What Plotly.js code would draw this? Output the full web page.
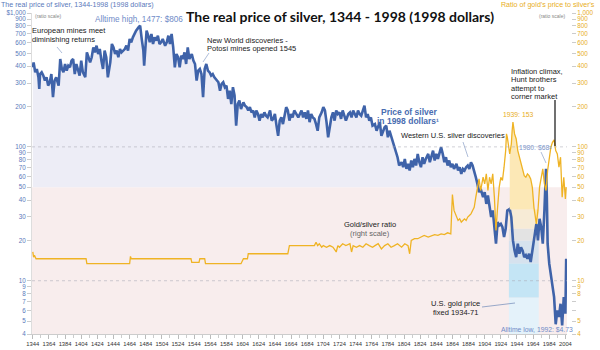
<!DOCTYPE html>
<html><head><meta charset="utf-8">
<script src="https://cdn.plot.ly/plotly-3.0.1.min.js"></script>
<style>html,body{margin:0;padding:0;background:#fff}#chart{width:600px;height:350px}</style>
</head><body><div id="chart"></div>
<script>
// ---- data ----
const silverYears = [
1344,1345,1347,1349,1351,1352,1353,1355,1357,1359,
1361,1363,1365,1367,1369,1371,1373,1376,1378,1380,
1382,1384,1386,1388,1390,1392,1394,1396,1398,1400,
1402,1404,1406,1409,1411,1413,1415,1417,1419,1421,
1423,1425,1427,1429,1431,1433,1435,1437,1440,1442,
1444,1446,1448,1450,1452,1454,1456,1458,1460,1462,
1464,1466,1468,1470,1472,1475,1477,1479,1481,1482,
1484,1485,1487,1489,1491,1493,1495,1497,1499,1501,
1503,1505,1508,1510,1512,1514,1516,1518,1520,1522,
1524,1526,1528,1530,1532,1534,1536,1538,1541,1543,
1545,1547,1549,1551,1553,1555,1557,1559,1561,1563,
1565,1567,1569,1571,1574,1576,1578,1580,1582,1584,
1586,1588,1590,1592,1594,1596,1598,1600,1602,1605,
1607,1609,1611,1613,1615,1617,1619,1621,1623,1625,
1627,1629,1631,1633,1635,1638,1640,1642,1644,1646,
1648,1650,1652,1654,1656,1658,1660,1662,1664,1666,
1668,1671,1673,1675,1677,1679,1681,1683,1685,1687,
1689,1691,1693,1695,1697,1699,1702,1704,1706,1708,
1710,1712,1714,1716,1718,1720,1722,1724,1726,1728,
1730,1732,1735,1737,1739,1741,1743,1745,1747,1749,
1751,1753,1755,1757,1759,1761,1763,1765,1768,1770,
1772,1774,1776,1778,1780,1782,1784,1786,1788,1790,
1792,1794,1796,1798,1801,1803,1805,1807,1809,1811,
1813,1815,1817,1819,1821,1823,1825,1827,1829,1831,
1834,1836,1838,1840,1842,1844,1846,1848,1850,1852,
1854,1856,1858,1860,1862,1864,1866,1869,1871,1873,
1875,1877,1879,1881,1883,1885,1887,1889,1891,1893,
1895,1897,1899,1902,1904,1906,1908,1910,1912,1914,
1916,1918,1920,1922,1924,1926,1928,1930,1932,1935,
1937,1939,1941,1943,1945,1947,1949,1951,1953,1955,
1957,1959,1961,1963,1965,1968,1970,1972,1974,1976,
1978,1980,1981,1982,1984,1986,1988,1990,1992,1994,
1996,1998,2000,2002,2004,2005];
const silverPrice = [
393,428,361,382,331,271,350,361,341,313,
331,287,304,350,235,313,331,287,453,382,
361,416,371,404,393,441,453,350,416,382,
341,441,361,331,508,467,428,467,554,508,
570,494,538,441,382,523,467,331,428,587,
554,494,523,467,538,508,523,538,570,523,
639,604,658,697,738,781,806,639,523,404,
639,738,677,604,697,587,658,621,677,587,
604,639,570,604,677,587,697,554,393,494,
467,393,480,453,508,416,554,453,494,441,
416,313,371,382,350,235,382,416,371,361,
341,350,331,322,304,263,295,304,279,287,
228,263,209,279,242,144,209,222,192,215,
203,198,187,198,181,187,166,187,176,157,
176,166,181,171,166,187,157,162,176,144,
121,157,166,148,176,198,187,157,176,166,
187,171,166,176,187,166,181,162,187,153,
176,166,162,148,132,166,181,198,187,153,
118,140,166,181,157,187,176,181,162,187,
171,157,176,181,166,187,176,166,187,176,
171,187,203,166,176,157,166,144,148,132,
144,153,121,132,140,144,118,132,121,108,
102,93.8,83.7,72.5,76.8,70.5,81.3,68.5,74.6,66.6,
79.1,70.5,81.3,72.5,88.6,76.8,70.5,83.7,74.6,81.3,
88.6,76.8,83.7,93.8,79.1,88.6,81.3,91.2,99.4,88.6,
76.8,83.7,72.5,79.1,70.5,74.6,68.5,74.6,66.6,70.5,
62.8,68.5,66.6,70.5,72.5,68.5,76.8,72.5,66.6,59.3,
52.9,45.9,48.6,42.1,45.9,37.5,43.3,35.4,29.9,33.5,
25.1,18.9,27.4,25.9,26.6,25.1,21.2,24.4,33.5,34.4,
29.9,20.0,16.8,15.0,18.9,15.9,17.8,16.8,15.0,15.5,
14.6,15.9,13.8,16.8,21.2,26.6,20.0,29.0,25.1,18.9,
33.5,68.5,42.1,18.9,13.4,11.3,8.96,7.55,4.73,6.00,
5.36,6.73,4.64,7.55,5.67,14.6];

const ratioYears = [
1344,1345,1346,1348,1410,1411,1464,1465,1466,1540,
1541,1550,1551,1557,1558,1602,1605,1610,1611,1660,
1662,1693,1695,1697,1699,1702,1704,1708,1712,1716,
1720,1722,1724,1728,1732,1737,1739,1741,1745,1749,
1753,1757,1761,1765,1768,1772,1776,1780,1784,1788,
1792,1796,1801,1805,1809,1811,1813,1817,1821,1825,
1829,1834,1838,1842,1846,1850,1854,1858,1862,1864,
1866,1869,1871,1873,1875,1877,1879,1881,1883,1885,
1887,1889,1891,1893,1895,1897,1899,1902,1904,1906,
1908,1910,1912,1914,1916,1918,1920,1922,1924,1926,
1928,1930,1931,1932,1935,1937,1938,1939,1941,1943,
1945,1947,1949,1951,1953,1955,1957,1959,1961,1963,
1965,1968,1970,1972,1974,1976,1978,1980,1982,1984,
1986,1988,1990,1992,1994,1996,1998,2000,2002,2004,
2005];
const ratioValues = [
16.4,15.0,15.5,14.6,14.6,13.4,13.4,15.2,14.6,14.6,
13.7,13.7,14.6,14.6,13.4,13.4,14.6,14.6,15.9,15.9,
18.3,18.3,19.4,18.3,18.9,17.8,18.3,17.8,18.3,17.8,
16.4,18.3,17.8,18.9,18.3,18.9,16.4,18.3,17.8,18.3,
17.8,18.9,18.3,17.8,18.3,18.9,17.3,18.3,18.9,17.8,
18.3,18.9,17.8,18.9,18.3,15.9,20.0,20.6,20.6,21.2,
21.8,21.2,21.8,22.1,21.8,22.4,22.1,22.8,22.4,44.0,
33.5,29.9,28.2,29.0,27.4,28.2,29.0,28.2,29.9,30.7,
31.6,33.5,35.4,42.1,50.0,57.7,47.2,59.3,52.9,62.8,
47.2,59.3,52.9,62.8,42.1,23.7,35.4,50.0,59.3,56.1,
70.5,93.8,125,118,88.6,105,132,153,125,115,
93.8,83.7,76.8,66.6,61.0,59.3,62.8,61.0,57.7,50.0,
35.4,26.6,33.5,50.0,59.3,68.5,52.9,47.2,66.6,83.7,
99.4,108,113,93.8,88.6,70.5,83.7,42.1,59.3,40.9,
50.0];

const xTickYears = [1344,1364,1384,1404,1424,1444,1464,1484,1504,1524,1544,1564,1584,1604,1624,1644,1664,1684,1704,1724,1744,1764,1784,1804,1824,1844,1864,1884,1904,1924,1944,1964,1984,2004];
const leftTickVals = [4,5,6,7,8,9,10,20,30,40,50,60,70,80,90,100,200,300,400,500,600,700,800,900,1000];
const leftTickText = ['4','5','6','7','8','9','10','20','30','40','50','60','70','80','90','100','200','300','400','500','600','700','800','900','$1,000'];
const rightTickVals = [4,5,6,7,8,9,10,20,30,40,50,60,70,80,90,100,200,300,400,500,600,700,800,900,1000];
const rightTickText = ['4','5','','','8','9','10','20','30','40','50','60','70','80','90','100','200','300','400','500','600','700','800','900','1,000'];
const goldFixedStart = 1934, goldFixedEnd = 1971;
const splitLevel = 50;       // value where the background changes
const bandBaseLevel = 34;    // yellow fill base in the fixed-gold band

// ---- geometry helpers (layout only) ----
const W=600,H=350,L=32,R=29,T=13,B=16;
const yMin=4, yMax=1000;
const xDomEnd = (567-L)/(W-L-R);
function px(x){return (x-L)/(W-L-R);}
function py(y){return (H-B-y)/(H-T-B);}
function pv(v){return (Math.log10(v)-Math.log10(yMin))/(Math.log10(yMax)-Math.log10(yMin));}

const NARROW = "'Liberation Sans',Arial,sans-serif";
const BLUE = '#3f63a9', GOLD = '#efb324';

const bandYears = ratioYears.filter(y=>y>=goldFixedStart && y<=goldFixedEnd);
const bandRatio = ratioValues.filter((v,i)=>ratioYears[i]>=goldFixedStart && ratioYears[i]<=goldFixedEnd);

const traces = [
  {x:silverYears, y:silverYears.map(()=>splitLevel), mode:'lines', line:{width:0,color:'rgba(0,0,0,0)'}, hoverinfo:'skip', showlegend:false},
  {x:silverYears, y:silverPrice.map(v=>Math.max(v,splitLevel)), mode:'lines', fill:'tonexty', fillcolor:'#ededf6', line:{width:0,color:'rgba(0,0,0,0)'}, hoverinfo:'skip', showlegend:false},
  {x:bandYears, y:bandYears.map(()=>bandBaseLevel), yaxis:'y2', mode:'lines', line:{width:0,color:'rgba(0,0,0,0)'}, hoverinfo:'skip', showlegend:false},
  {x:bandYears, y:bandRatio, yaxis:'y2', mode:'lines', fill:'tonexty', fillcolor:'#fce8b6', line:{width:0,color:'rgba(0,0,0,0)'}, hoverinfo:'skip', showlegend:false},
  {x:silverYears, y:silverPrice, mode:'lines', line:{color:BLUE,width:2.6}, name:'Price of silver', showlegend:false},
  {x:ratioYears, y:ratioValues, yaxis:'y2', mode:'lines', line:{color:GOLD,width:1.3}, name:'Gold/silver ratio', showlegend:false}
];

function rect(x0,x1,v0,v1,color){return {type:'rect',xref:'x',yref:'paper',x0:x0,x1:x1,y0:pv(v0),y1:pv(v1),fillcolor:color,line:{width:0},layer:'below'};}
function seg(x0,y0,x1,y1,color,w){return {type:'line',xref:'paper',yref:'paper',x0:px(x0),y0:py(y0),x1:px(x1),y1:py(y1),line:{color:color,width:w||0.8},layer:'above'};}

const shapes = [
  {type:'rect',xref:'paper',yref:'paper',x0:0,x1:xDomEnd,y0:0,y1:pv(splitLevel),fillcolor:'#f8eded',line:{width:0},layer:'below'},
  rect(goldFixedStart,goldFixedEnd,4,7.5,'#e4f2fa'),
  rect(goldFixedStart,goldFixedEnd,7.5,13.5,'#c4e5f5'),
  rect(goldFixedStart,goldFixedEnd,13.5,20,'#d6e2ee'),
  rect(goldFixedStart,goldFixedEnd,20,24.5,'#e3e3e3'),
  rect(goldFixedStart,goldFixedEnd,24.5,34,'#f7ebd6'),
  {type:'line',xref:'paper',yref:'paper',x0:0,x1:xDomEnd,y0:pv(100),y1:pv(100),line:{color:'rgba(170,170,180,0.55)',width:1,dash:'dot'},layer:'above'},
  {type:'line',xref:'paper',yref:'paper',x0:0,x1:xDomEnd,y0:pv(10),y1:pv(10),line:{color:'rgba(170,170,180,0.55)',width:1,dash:'dot'},layer:'above'},
  seg(57,47,62,53,'#9aaccf'),
  seg(209,53,203,62,'#9aaccf'),
  seg(463,142,468,157,'#9aaccf'),
  seg(541,152,546,163,'#9aaccf'),
  seg(555,100,555,146,'#111',1.2),
  seg(482,307,515,303,'#7f95bf')
];

function ann(text,x,y,o){o=o||{};return {text:text,xref:'paper',yref:'paper',x:px(x),y:py(y),xanchor:o.xa||'left',yanchor:'middle',showarrow:false,borderpad:0,font:{family:NARROW,size:o.size||7.5,color:o.color||'#1a1a1a'}};}

const annotations = [
  ann('The real price of silver, 1344-1998 (1998 dollars)',0,5,{size:7.1,color:'#5a79bb'}),
  ann('(ratio scale)',34,16,{size:5,color:'#888'}),
  ann('Alltime high, 1477: $806',94,19,{size:8.2,color:'#6f8bc8'}),
  ann('European mines meet',31,30.5),
  ann('diminishing returns',31,39.5),
  ann('New World discoveries -',206,40),
  ann('Potosí mines opened 1545',206,48.5),
  ann('<b>Price of silver</b>',409,111.5,{xa:'center',size:8.5,color:'#4a6db1'}),
  ann('<b>in 1998 dollars¹</b>',408,121,{xa:'center',size:8.5,color:'#4a6db1'}),
  ann('Western U.S. silver discoveries',400,135),
  ann('1939: 153',502,114,{size:6.8,color:'#e8ad1e'}),
  ann('1980: $68²',518,147,{size:6.8,color:'#7d97cb'}),
  ann('Inflation climax,',510,71),
  ann('Hunt brothers',510,79.5),
  ann('attempt to',510,88),
  ann('corner market',510,96.5),
  ann('Gold/silver ratio',370,224.5,{xa:'center'}),
  ann('(right scale)',370,233.5,{xa:'center',color:'#666'}),
  ann('U.S. gold price',456,303.5,{xa:'center'}),
  ann('fixed 1934-71',456,312.5,{xa:'center'}),
  ann('Alltime low, 1992: $4.73',500,329,{size:6.8,color:'#6f8bc8'}),
  ann("Ratio of gold's price to silver's",596,5,{xa:'right',size:7.1,color:'#e8ad1e'}),
  ann('(ratio scale)',538,16,{size:5,color:'#888'})
];

const layout = {
  width:W, height:H,
  margin:{l:L,r:R,t:T,b:B,pad:0},
  paper_bgcolor:'#fff', plot_bgcolor:'rgba(0,0,0,0)',
  showlegend:false,
  title:{text:'<b>The real price of silver, 1344 - 1998 (1998 dollars)</b>', x:340/600, xanchor:'center', y:1-17/350, yanchor:'middle', xref:'container', yref:'container', font:{family:'Lato, sans-serif', size:14, color:'#111'}},
  xaxis:{range:[1343,2006], domain:[0,xDomEnd], tickmode:'array', tickvals:xTickYears, ticktext:xTickYears.map(String), tickangle:0,
    tickfont:{family:NARROW,size:5.8,color:'#333'}, ticks:'outside', ticklen:4, tickcolor:'#bbb', tickwidth:1,
    minor:{tick0:1344, dtick:10, ticks:'outside', ticklen:3, tickcolor:'#ccc'},
    showline:true, linecolor:'#ccc', linewidth:1, showgrid:false, zeroline:false, fixedrange:true},
  yaxis:{type:'log', range:[Math.log10(yMin),Math.log10(yMax)], tickmode:'array', tickvals:leftTickVals, ticktext:leftTickText,
    tickfont:{family:NARROW,size:6.3,color:'#5a79bb'}, ticks:'outside', ticklen:4, tickcolor:'#ccc',
    showline:true, linecolor:'#ddd', linewidth:1, showgrid:false, zeroline:false},
  yaxis2:{type:'log', range:[Math.log10(yMin),Math.log10(yMax)], overlaying:'y', side:'right', anchor:'free', position:1,
    tickmode:'array', tickvals:rightTickVals, ticktext:rightTickText,
    tickfont:{family:NARROW,size:6.3,color:'#e8ad1e'}, ticks:'outside', ticklen:4, tickcolor:'#ccc',
    showline:false, showgrid:false, zeroline:false},
  shapes:shapes,
  annotations:annotations
};

Plotly.newPlot('chart', traces, layout, {staticPlot:true, displayModeBar:false});
</script></body></html>
